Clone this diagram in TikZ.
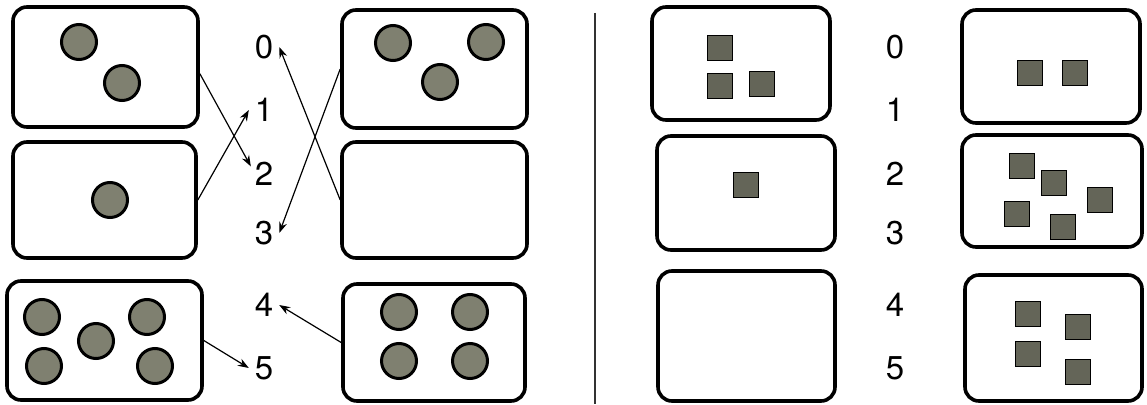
\documentclass[tikz,border=0pt]{standalone}
\usepackage{fontspec}
\setmainfont{TeX Gyre Heros}
\usepackage{xcolor}
\usepackage{tikz}
\usetikzlibrary{arrows.meta}
\definecolor{beadgray}{RGB}{127,128,112}
\definecolor{cubegray}{RGB}{100,101,88}
\tikzset{
  bx/.style={draw,line width=3.6pt,rounded corners=14pt,inner sep=0pt},
  bd/.style={circle,draw,line width=3pt,fill=beadgray,minimum size=35pt,inner sep=0pt},
  cb/.style={draw,line width=1.8pt,fill=cubegray,minimum size=25pt,inner sep=0pt},
  num/.style={circle,minimum size=30pt,inner sep=0pt,font=\fontsize{33}{33}\selectfont},
  ar/.style={line width=1.2pt,-{Stealth[length=11pt,width=8pt]}},
  sep/.style={line width=2.2pt,black!80}
}
\newcommand{\card}[5]{\node[bx,minimum width=#4pt,minimum height=#5pt] (#1) at (#2,#3) {};}
\newcommand{\bead}[3]{\node[bd] (#1) at (#2,#3) {};}
\newcommand{\cube}[3]{\node[cb] (#1) at (#2,#3) {};}

\begin{document}
\begin{tikzpicture}[x=1pt,y=-1pt]
\useasboundingbox (0,0) rectangle (1147,404);
% left half: cards with beads
\card{L1}{105.5}{67}{185}{120} \bead{l1a}{79}{42} \bead{l1b}{122}{83}
\card{L2}{104.5}{200}{183}{116} \bead{l2a}{110}{200}
\card{L3}{104.5}{340.5}{195}{119}
\bead{l3a}{42}{317} \bead{l3b}{147}{317} \bead{l3c}{96}{341} \bead{l3d}{44}{366} \bead{l3e}{155}{366}
\card{R1}{434.5}{69}{185}{118} \bead{r1a}{393}{43} \bead{r1b}{486}{42} \bead{r1c}{440}{82}
\card{R2}{434.5}{200}{185}{116}
\card{R3}{434}{342.5}{182}{117}
\bead{r3a}{399}{312} \bead{r3b}{470}{312} \bead{r3c}{399}{361} \bead{r3d}{470}{361}
\node[num] (la0) at (264,47) {0}; \node[num] (la1) at (264,110) {1};
\node[num] (la2) at (264,174) {2}; \node[num] (la3) at (264,233) {3};
\node[num] (la4) at (264,305) {4}; \node[num] (la5) at (264,368) {5};
\draw[ar] (L1.-4) -- (la2.150);
\draw[ar] (L2.east) -- (la1.west);
\draw[ar] (L3.east) -- (la5.west);
\draw[ar] (R2.west) -- (la0.east);
\draw[ar] (R1.west) -- (la3.east);
\draw[ar] (R3.west) -- (la4.east);
% divider
\coordinate (st) at (595,13); \coordinate (sb) at (595,404);
\draw[sep] (st) -- (sb);
% right half: cards with cubes
\card{A1}{741}{63.5}{178}{113} \cube{a1a}{720}{48} \cube{a1b}{720}{86} \cube{a1c}{762}{84}
\card{A2}{746}{193}{178}{114} \cube{a2a}{746}{185}
\card{A3}{746.5}{336}{177}{130}
\card{B1}{1051}{66.5}{178}{113} \cube{b1a}{1030}{73} \cube{b1b}{1075}{73}
\card{B2}{1052}{191}{180}{112}
\cube{b2a}{1022}{166} \cube{b2b}{1054}{183} \cube{b2c}{1100}{200} \cube{b2d}{1017}{214} \cube{b2e}{1063}{227}
\card{B3}{1053.5}{338}{177}{126}
\cube{b3a}{1028}{314} \cube{b3b}{1078}{327} \cube{b3c}{1028}{354} \cube{b3d}{1078}{372}
\node[num] (ra0) at (895,47) {0}; \node[num] (ra1) at (895,110) {1};
\node[num] (ra2) at (895,174) {2}; \node[num] (ra3) at (895,233) {3};
\node[num] (ra4) at (895,305) {4}; \node[num] (ra5) at (895,368) {5};
\end{tikzpicture}
\end{document}
